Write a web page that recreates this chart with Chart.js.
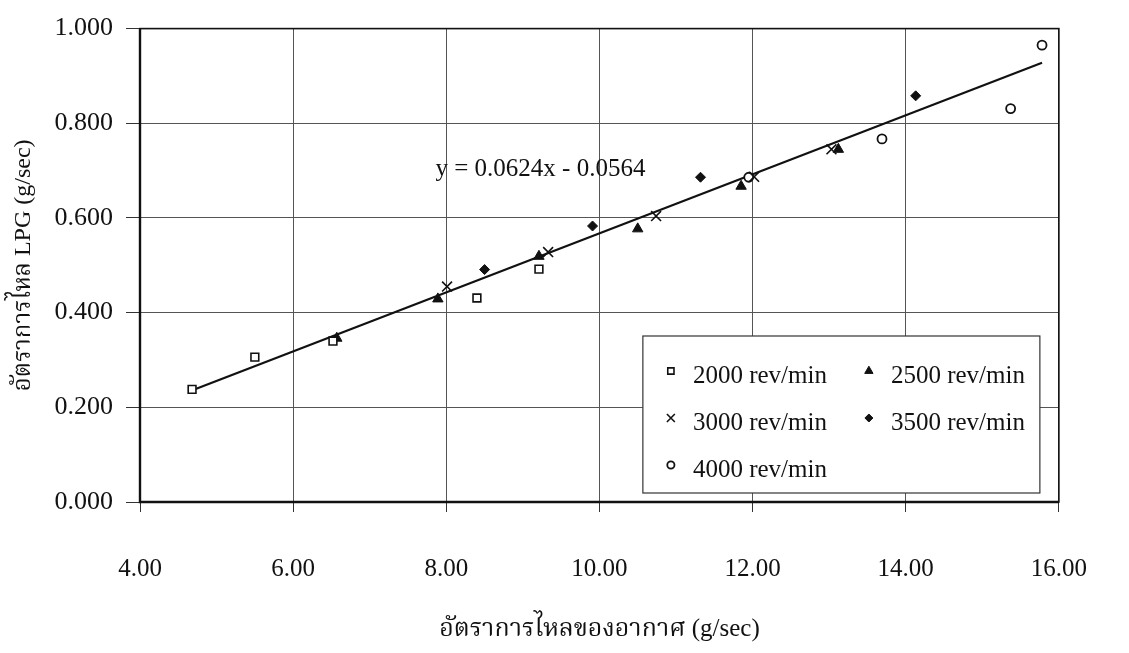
<!DOCTYPE html>
<html><head><meta charset="utf-8">
<script src="https://cdn.jsdelivr.net/npm/chart.js@4.4.1/dist/chart.umd.min.js"></script>
<style>html,body{margin:0;padding:0;background:#fff;} #wrap{width:1129px;height:653px;position:relative;}</style>
</head><body><div id="wrap"><canvas id="c"></canvas></div>
<script>
// ---- data ----
const xTicks = [4, 6, 8, 10, 12, 14, 16];
const yTicks = [0, 0.2, 0.4, 0.6, 0.8, 1.0];
const seriesNames = ['2000 rev/min', '2500 rev/min', '3000 rev/min', '3500 rev/min', '4000 rev/min'];
const x2000 = [4.68, 5.50, 6.52, 8.40, 9.21];
const y2000 = [0.238, 0.306, 0.340, 0.431, 0.492];
const x2500 = [6.57, 7.89, 9.21, 10.50, 11.85, 13.12];
const y2500 = [0.346, 0.429, 0.519, 0.577, 0.667, 0.745];
const x3000 = [8.01, 9.33, 10.74, 12.02, 13.03];
const y3000 = [0.455, 0.528, 0.604, 0.687, 0.745];
const x3500 = [8.50, 9.91, 11.32, 14.13];
const y3500 = [0.491, 0.583, 0.686, 0.858];
const x4000 = [11.95, 13.69, 15.37, 15.78];
const y4000 = [0.686, 0.767, 0.831, 0.965];
const trendX = [4.65, 15.78];
const trendY = [0.234, 0.928];
const equationText = 'y = 0.0624x - 0.0564';
const xTitle = 'อัตราการไหลของอากาศ (g/sec)';
const yTitle = 'อัตราการไหล LPG (g/sec)';

const SERIF = "'Liberation Serif', 'Noto Serif Thai', 'Noto Sans Thai', 'Loma', 'Norasi', 'Garuda', 'Times New Roman', serif";
const pts = (xs, ys) => xs.map((x, i) => ({x: x, y: ys[i]}));

const styles = [
  {pointStyle: 'rect', radius: 5.5, bg: '#fff', border: '#111', bw: 1.6},
  {pointStyle: 'triangle', radius: 6, bg: '#111', border: '#111', bw: 1},
  {pointStyle: 'crossRot', radius: 7, bg: '#111', border: '#111', bw: 1.6},
  {pointStyle: 'rectRot', radius: 5, bg: '#111', border: '#111', bw: 1},
  {pointStyle: 'circle', radius: 4.5, bg: '#fff', border: '#111', bw: 1.8}
];
const seriesX = [x2000, x2500, x3000, x3500, x4000];
const seriesY = [y2000, y2500, y3000, y3500, y4000];

const datasets = seriesNames.map((name, i) => ({
  type: 'scatter',
  label: name,
  data: pts(seriesX[i], seriesY[i]),
  pointStyle: styles[i].pointStyle,
  pointRadius: styles[i].radius,
  pointHoverRadius: styles[i].radius,
  backgroundColor: styles[i].bg,
  borderColor: styles[i].border,
  borderWidth: styles[i].bw,
  showLine: false
}));
datasets.push({
  type: 'line',
  label: 'trend',
  data: pts(trendX, trendY),
  borderColor: '#111',
  borderWidth: 2.2,
  pointRadius: 0,
  fill: false,
  tension: 0
});

const frame = {
  id: 'frame',
  afterDatasetsDraw(chart) {
    const {ctx, chartArea: a} = chart;
    ctx.save();
    ctx.strokeStyle = '#111';
    ctx.lineWidth = 1.6;
    ctx.strokeRect(a.left, a.top, a.right - a.left, a.bottom - a.top);
    ctx.lineWidth = 2.4;
    ctx.beginPath();
    ctx.moveTo(a.left, a.top); ctx.lineTo(a.left, a.bottom); ctx.lineTo(a.right, a.bottom);
    ctx.stroke();
    ctx.restore();
  }
};

function marker(ctx, st, x, y, r) {
  ctx.save();
  ctx.fillStyle = st.bg; ctx.strokeStyle = st.border; ctx.lineWidth = st.bw;
  ctx.beginPath();
  if (st.pointStyle === 'rect') {
    const s = r * Math.SQRT1_2;
    ctx.rect(x - s, y - s, 2 * s, 2 * s); ctx.fill(); ctx.stroke();
  } else if (st.pointStyle === 'triangle') {
    ctx.moveTo(x, y - r);
    ctx.lineTo(x + r * Math.sin(Math.PI / 3), y + r * 0.5);
    ctx.lineTo(x - r * Math.sin(Math.PI / 3), y + r * 0.5);
    ctx.closePath(); ctx.fill(); ctx.stroke();
  } else if (st.pointStyle === 'crossRot') {
    const s = r * Math.SQRT1_2;
    ctx.moveTo(x - s, y - s); ctx.lineTo(x + s, y + s);
    ctx.moveTo(x + s, y - s); ctx.lineTo(x - s, y + s); ctx.stroke();
  } else if (st.pointStyle === 'rectRot') {
    ctx.moveTo(x, y - r); ctx.lineTo(x + r, y); ctx.lineTo(x, y + r); ctx.lineTo(x - r, y);
    ctx.closePath(); ctx.fill(); ctx.stroke();
  } else {
    ctx.arc(x, y, r, 0, Math.PI * 2); ctx.fill(); ctx.stroke();
  }
  ctx.restore();
}

const legendBox = {
  id: 'legendBox',
  afterDraw(chart) {
    const {ctx, chartArea: a} = chart;
    const w = 397, h = 157;
    const bx = a.right - 19 - w, by = a.bottom - 9 - h;
    ctx.save();
    ctx.fillStyle = '#fff';
    ctx.fillRect(bx, by, w, h);
    ctx.strokeStyle = '#333'; ctx.lineWidth = 1.2;
    ctx.strokeRect(bx, by, w, h);
    ctx.font = '25px ' + SERIF;
    ctx.fillStyle = '#111';
    ctx.textBaseline = 'middle';
    ctx.textAlign = 'left';
    const rows = [39, 86, 133], cols = [28, 226];
    seriesNames.forEach((name, i) => {
      const cx = bx + cols[i % 2], cy = by + rows[Math.floor(i / 2)];
      marker(ctx, styles[i], cx, cy - 4, styles[i].radius * 0.8);
      ctx.fillText(name, cx + 22, cy + 1);
    });
    ctx.restore();
  }
};

const equation = {
  id: 'equation',
  afterDatasetsDraw(chart) {
    const {ctx, scales} = chart;
    ctx.save();
    ctx.font = '25px ' + SERIF;
    ctx.fillStyle = '#111';
    ctx.textAlign = 'center';
    ctx.textBaseline = 'middle';
    ctx.fillText(equationText, scales.x.getPixelForValue(9.23), scales.y.getPixelForValue(0.703));
    ctx.restore();
  }
};

new Chart(document.getElementById('c'), {
  data: {datasets: datasets},
  options: {
    responsive: true,
    maintainAspectRatio: false,
    animation: false,
    events: [],
    layout: {padding: {top: 14, right: 36, left: 0, bottom: 0}},
    plugins: {legend: {display: false}, tooltip: {enabled: false}},
    scales: {
      x: {
        type: 'linear', min: 4, max: 16,
        afterBuildTicks: s => { s.ticks = xTicks.map(v => ({value: v})); },
        afterFit: s => { s.height = 151; },
        grid: {color: '#555', lineWidth: 1, tickLength: 10, tickColor: '#333', drawTicks: true},
        border: {display: false},
        ticks: {color: '#111', padding: 42, maxRotation: 0, font: {family: SERIF, size: 25}, callback: v => Number(v).toFixed(2)},
        title: {display: true, text: xTitle, color: '#111', font: {family: SERIF, size: 25}, padding: {top: 0, bottom: 9}}
      },
      y: {
        type: 'linear', min: 0, max: 1,
        afterBuildTicks: s => { s.ticks = yTicks.map(v => ({value: v})); },
        afterFit: s => { s.width = 140; },
        grid: {color: '#555', lineWidth: 1, tickLength: 14, tickColor: '#333', drawTicks: true},
        border: {display: false},
        ticks: {color: '#111', padding: 13, font: {family: SERIF, size: 26}, callback: v => Number(v).toFixed(3)},
        title: {display: true, text: yTitle, color: '#111', font: {family: SERIF, size: 24}, padding: {top: 9, bottom: 0}}
      }
    }
  },
  plugins: [frame, equation, legendBox]
});
</script>
</body></html>
